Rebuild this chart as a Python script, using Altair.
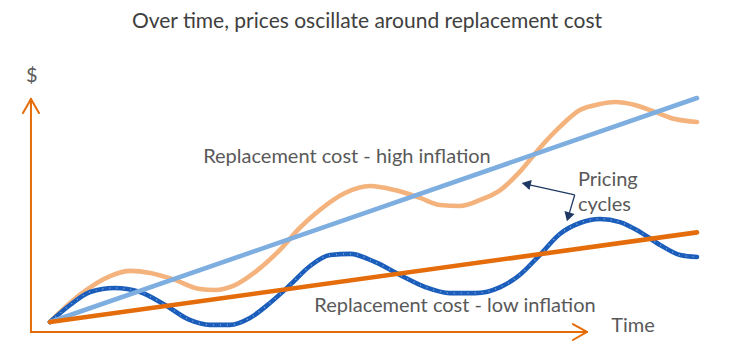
import altair as alt
import pandas as pd

# ---- data (time units 0..100, price units) ----
price_hi_t = [0, 4.6, 9.3, 12.4, 15.5, 19.3, 23.2, 25.5, 28.6, 31.7, 35.5, 38.6, 41.7, 45.6, 49.5,
              53.3, 57.2, 60.3, 63.4, 66.5, 69.6, 72.6, 75.7, 78.8, 81.9, 85.0, 87.3, 90.4, 93.5, 96.6, 100]
price_hi_v = [0, 12.1, 20.5, 22.8, 21.9, 18.8, 14.7, 14.3, 16.5, 22.3, 32.1, 42.0, 50.0, 57.6, 60.7,
              58.9, 55.4, 52.2, 51.8, 54.5, 58.9, 67.0, 77.7, 87.1, 94.6, 97.3, 98.2, 96.9, 93.8, 90.6, 89.3]

price_lo_t = [0, 3.1, 6.2, 10.0, 13.9, 17.8, 21.6, 24.7, 27.8, 30.9, 34.0, 37.1, 40.2, 43.3, 46.4,
              50.2, 54.1, 58.0, 61.8, 65.7, 69.6, 72.6, 75.7, 78.8, 81.9, 85.0, 88.1, 91.2, 94.3, 97.4, 100]
price_lo_v = [0, 7.6, 13.4, 15.2, 13.4, 7.6, 0.9, -1.3, -1.3, 1.8, 8.5, 16.5, 25.0, 29.9, 30.4,
              26.8, 21.0, 15.6, 12.9, 12.9, 15.6, 21.0, 29.9, 39.3, 44.2, 46.0, 44.6, 40.2, 34.4, 29.9, 29.0]

rc_t = [0, 100]
rc_high = [0, 100]
rc_low = [0, 40]

series_names = ["price_hi", "price_lo", "rc_high", "rc_low"]
series_colors = ["#F4B27C", "#1A5DBA", "#7EAEE0", "#E46C0A"]

rows = []
for t, v in zip(rc_t, rc_low):
    rows.append({"t": t, "p": v, "s": "rc_low"})
for t, v in zip(rc_t, rc_high):
    rows.append({"t": t, "p": v, "s": "rc_high"})
for t, v in zip(price_hi_t, price_hi_v):
    rows.append({"t": t, "p": v, "s": "price_hi"})
for t, v in zip(price_lo_t, price_lo_v):
    rows.append({"t": t, "p": v, "s": "price_lo"})
df = pd.DataFrame(rows)

X_DOM = [-6.49, 104.64]
Y_DOM = [-12.95, 140.18]
xs = alt.Scale(domain=X_DOM, nice=False, zero=False)
ys = alt.Scale(domain=Y_DOM, nice=False, zero=False)

def X(f="t"):
    return alt.X(f + ":Q", scale=xs, axis=None)

def Y(f="p"):
    return alt.Y(f + ":Q", scale=ys, axis=None)

lines = {}
for name, col in zip(series_names, series_colors):
    lines[name] = alt.Chart(df[df.s == name]).mark_line(
        color=col, strokeWidth=4.6, interpolate="monotone", strokeCap="round"
    ).encode(x=X(), y=Y(), order="t:Q")

dots = alt.Chart(df[df.s == "price_lo"]).mark_line(
    color="#7FA6DE", strokeWidth=1.5, strokeDash=[1, 6], interpolate="monotone"
).encode(x=X(), y=Y(), order="t:Q")

# axis arrows (in data units)
ax_x = [-2.94, -2.94, -2.94, -2.94, 83.0, 83.0]
ax_y = [-4.46, -4.46, 99.6, 99.6, -4.46, -4.46]
ax_x2 = [-2.94, 83.0, -4.17, -1.70, 80.83, 80.83]
ax_y2 = [99.6, -4.46, 93.3, 93.3, -0.9, -8.04]
axes_df = pd.DataFrame({"t": ax_x, "p": ax_y, "t2": ax_x2, "p2": ax_y2})
axes = alt.Chart(axes_df).mark_rule(color="#E46C0A", strokeWidth=2, strokeCap="round").encode(
    x=X(), y=Y(), x2="t2:Q", y2="p2:Q"
)

# annotation arrows
arr_df = pd.DataFrame({"t": [81.1, 81.1], "p": [56.7, 56.7], "t2": [73.6, 80.1], "p2": [61.6, 46.9]})
arr_lines = alt.Chart(arr_df).mark_rule(color="#1F3864", strokeWidth=1.3).encode(
    x=X(), y=Y(), x2="t2:Q", y2="p2:Q"
)
head_df = pd.DataFrame({"t": [73.6, 80.1], "p": [61.6, 46.9], "a": [282.5, 196.5]})
heads = alt.Chart(head_df).mark_point(
    shape="triangle-up", filled=True, color="#1F3864", size=110, opacity=1
).encode(x=X(), y=Y(), angle=alt.Angle("a:Q", scale=None))

# texts
txt_label = ["Replacement cost - high inflation", "Replacement cost - low inflation", "$", "Time"]
txt_t = [45.9, 62.6, -2.8, 90.1]
txt_p = [73.7, 7.1, 109.8, -1.8]
txt_df = pd.DataFrame({"t": txt_t, "p": txt_p, "label": txt_label})
texts = alt.Chart(txt_df).mark_text(
    font="Lato", fontSize=20, color="#595959", align="center", baseline="middle"
).encode(x=X(), y=Y(), text="label:N")

pc_df = pd.DataFrame({"t": [81.6, 81.6], "p": [63.4, 52.2], "label": ["Pricing", "cycles"]})
pc_text = alt.Chart(pc_df).mark_text(
    font="Lato", fontSize=20, color="#595959", align="left", baseline="middle"
).encode(x=X(), y=Y(), text="label:N")

title_df = pd.DataFrame({"t": [49.0], "p": [133.9], "label": ["Over time, prices oscillate around replacement cost"]})
title = alt.Chart(title_df).mark_text(
    font="Lato", fontSize=21, color="#404040", align="center", baseline="middle"
).encode(x=X(), y=Y(), text="label:N")

chart = alt.layer(
    axes, lines["price_hi"], lines["price_lo"], dots, lines["rc_high"], lines["rc_low"],
    arr_lines, heads, texts, pc_text, title
).properties(
    width=719, height=343, autosize=alt.AutoSizeParams(type="none"), padding=0
).configure_view(stroke=None)

chart.save("out.html", embed_options={"renderer": "svg", "actions": False})
